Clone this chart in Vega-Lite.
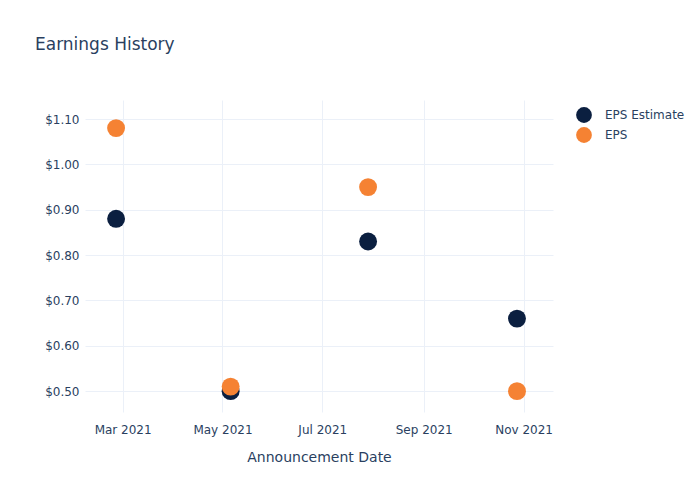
{
  "$schema": "https://vega.github.io/schema/vega-lite/v6.json",
  "width": 468,
  "height": 312,
  "autosize": {"type": "none"},
  "padding": {"left": 85, "top": 100, "right": 147, "bottom": 88},
  "background": "white",
  "title": {
    "text": "Earnings History",
    "anchor": "start",
    "frame": "group",
    "dx": -50,
    "offset": 33,
    "baseline": "alphabetic",
    "fontSize": 17,
    "fontWeight": "normal",
    "font": "DejaVu Sans",
    "color": "#2a3f5f"
  },
  "config": {
    "view": {"stroke": null},
    "font": "DejaVu Sans"
  },
  "data": {
    "values": [
      {"date": "2021-02-25", "series": "EPS Estimate", "value": 0.88},
      {"date": "2021-05-06", "series": "EPS Estimate", "value": 0.50},
      {"date": "2021-07-29", "series": "EPS Estimate", "value": 0.83},
      {"date": "2021-10-28", "series": "EPS Estimate", "value": 0.66},
      {"date": "2021-02-25", "series": "EPS", "value": 1.08},
      {"date": "2021-05-06", "series": "EPS", "value": 0.51},
      {"date": "2021-07-29", "series": "EPS", "value": 0.95},
      {"date": "2021-10-28", "series": "EPS", "value": 0.50}
    ]
  },
  "mark": {"type": "circle", "size": 320, "opacity": 1},
  "encoding": {
    "x": {
      "field": "date",
      "type": "temporal",
      "title": "Announcement Date",
      "scale": {
        "type": "utc",
        "domain": [
          {"year": 2021, "month": 2, "date": 6, "utc": true},
          {"year": 2021, "month": 11, "date": 19, "utc": true}
        ]
      },
      "axis": {
        "values": [
          {"year": 2021, "month": 3, "date": 1, "utc": true},
          {"year": 2021, "month": 5, "date": 1, "utc": true},
          {"year": 2021, "month": 7, "date": 1, "utc": true},
          {"year": 2021, "month": 9, "date": 1, "utc": true},
          {"year": 2021, "month": 11, "date": 1, "utc": true}
        ],
        "labelExpr": "utcFormat(datum.value, '%b %Y')",
        "grid": true,
        "gridColor": "#ebf0f8",
        "domain": false,
        "ticks": false,
        "labelPadding": 12,
        "labelFontSize": 12,
        "labelColor": "#2a3f5f",
        "labelFlush": false,
        "titleFontSize": 14,
        "titleFontWeight": "normal",
        "titleColor": "#2a3f5f",
        "titlePadding": 15
      }
    },
    "y": {
      "field": "value",
      "type": "quantitative",
      "title": null,
      "scale": {"domain": [0.454, 1.142], "zero": false, "nice": false},
      "axis": {
        "values": [0.5, 0.6, 0.7, 0.8, 0.9, 1.0, 1.1],
        "format": "$.2f",
        "grid": true,
        "gridColor": "#ebf0f8",
        "domain": false,
        "ticks": false,
        "labelPadding": 6,
        "labelFontSize": 12,
        "labelColor": "#2a3f5f"
      }
    },
    "color": {
      "field": "series",
      "type": "nominal",
      "sort": ["EPS Estimate", "EPS"],
      "scale": {"domain": ["EPS Estimate", "EPS"], "range": ["#0b1f40", "#f58233"]},
      "legend": {
        "title": null,
        "orient": "none",
        "legendX": 490,
        "legendY": 6,
        "symbolSize": 250,
        "symbolOpacity": 1,
        "labelFontSize": 12,
        "labelColor": "#2a3f5f",
        "labelOffset": 12,
        "rowPadding": 3
      }
    }
  }
}
